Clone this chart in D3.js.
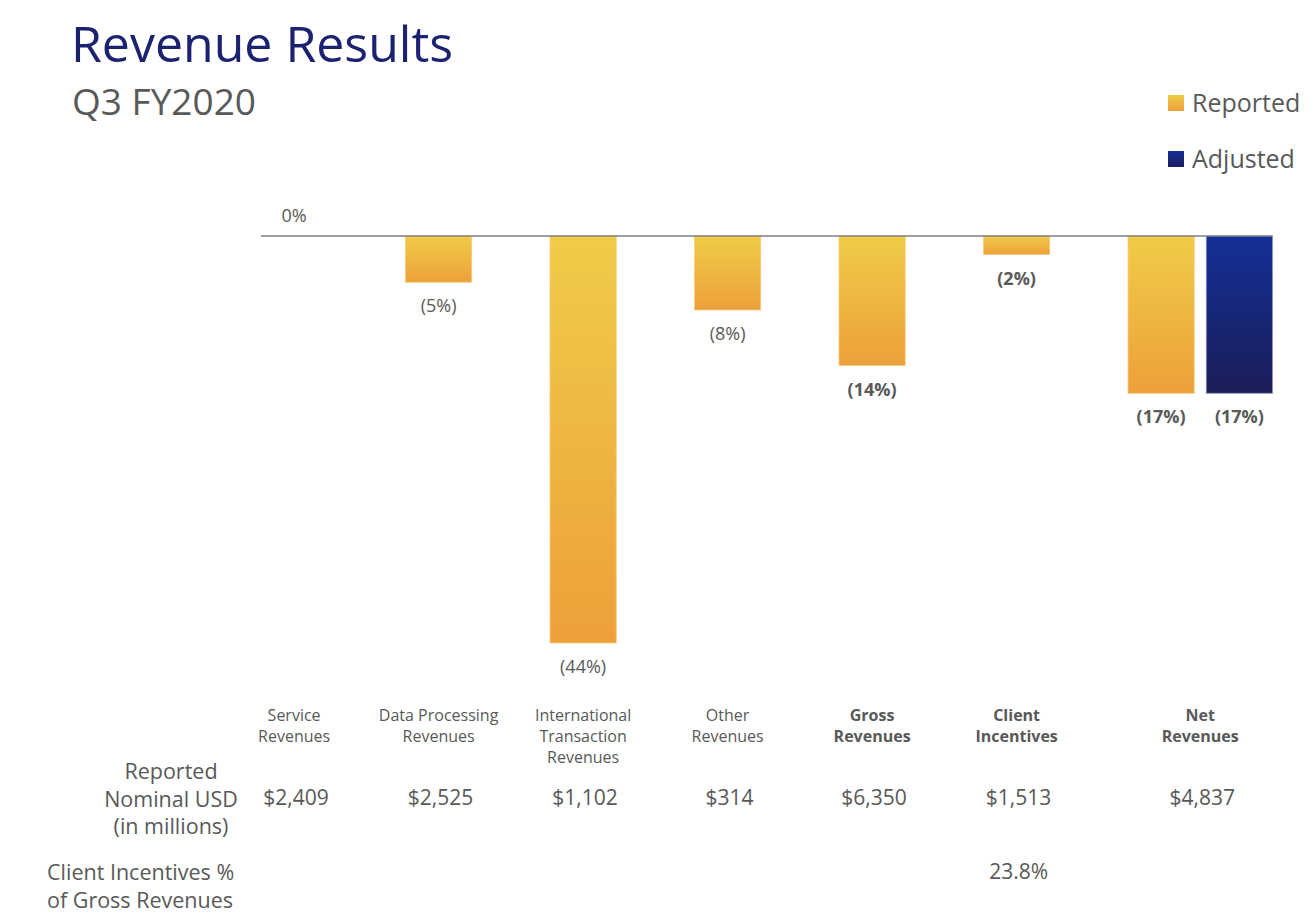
<!DOCTYPE html>
<html lang="en">
<head>
    <meta charset="UTF-8">
    <title>Revenue Results</title>
    <script src="https://d3js.org/d3.v7.min.js"></script>
</head>
<style>
    html,body {
        margin: 0;
        padding: 0;
        background: #fff;
    }
    text {
        font-family: "Open Sans", "Noto Sans", sans-serif;
    }
</style>
<body>
    <div id="svg"></div>
</body>
<script>
    // categories (line breaks as in the slide)
    const categories = ['Service\nRevenues', 'Data Processing\nRevenues', 'International\nTransaction\nRevenues',
        'Other\nRevenues', 'Gross\nRevenues', 'Client\nIncentives', 'Net\nRevenues'];
    // subtotal rows are set in bold
    const isTotal = [false, false, false, false, true, true, true];
    // growth, %
    const reported = [0, -5, -44, -8, -14, -2, -17];
    const adjusted = [null, null, null, null, null, null, -17];
    const series = ['Reported', 'Adjusted'];
    // table rows under the chart
    const nominalUSD = ['$2,409', '$2,525', '$1,102', '$314', '$6,350', '$1,513', '$4,837'];
    const incentivesPct = [null, null, null, null, null, '23.8%', null];
    const rowLabels = [['Reported', 'Nominal USD', '(in millions)'], ['Client Incentives %', 'of Gross Revenues']];

    const width = 1314;
    const height = 918;
    const textGray = '#595959';

    const svg = d3.select('#svg').append('svg')
        .attr('width', width)
        .attr('height', height);

    // gradients for the bars
    const defs = svg.append('defs');
    const grads = {
        Reported: ['#f0cc48', '#eda03a'],
        Adjusted: ['#142f97', '#1b1d57']
    };
    Object.keys(grads).forEach(k => {
        const g = defs.append('linearGradient').attr('id', 'g' + k)
            .attr('x1', 0).attr('y1', 0).attr('x2', 0).attr('y2', 1);
        g.append('stop').attr('offset', '0%').attr('stop-color', grads[k][0]);
        g.append('stop').attr('offset', '100%').attr('stop-color', grads[k][1]);
    });
    const strokes = {Reported: '#f5cd7e', Adjusted: '#8a90bd'};

    // titles
    svg.append('text').attr('x', 71).attr('y', 62)
        .attr('font-size', 50).attr('fill', '#1b2270')
        .text('Revenue Results');
    svg.append('text').attr('x', 72).attr('y', 115)
        .attr('font-size', 37).attr('fill', textGray)
        .text('Q3 FY2020');

    // legend
    const legend = svg.append('g').attr('transform', 'translate(1168, 95)');
    series.forEach((s, i) => {
        const lg = legend.append('g').attr('transform', `translate(0, ${i * 56})`);
        lg.append('rect').attr('width', 16).attr('height', 16).attr('fill', `url(#g${s})`);
        lg.append('text').attr('x', 24).attr('y', 17).attr('font-size', 25).attr('fill', textGray).text(s);
    });

    // scales
    const x = d3.scaleBand().domain(categories).range([261, 261 + 7 * 144.5]).paddingInner(0);
    const xs = d3.scaleBand().domain(series).range([0, x.bandwidth()]).paddingInner(0.154);
    const y = d3.scaleLinear().domain([0, -44]).range([236, 643]);

    const rows = categories.map((c, i) => ({
        cat: c, i, total: isTotal[i],
        bars: [{s: 'Reported', v: reported[i]}, {s: 'Adjusted', v: adjusted[i]}].filter(b => b.v !== null)
    }));
    // label centre: over the bars that exist in the category
    const labelX = r => {
        const xs0 = r.bars.map(b => x(r.cat) + xs(b.s));
        return (d3.min(xs0) + d3.max(xs0) + xs.bandwidth()) / 2;
    };

    const barData = rows.flatMap(r => r.bars.map(b => ({...b, cat: r.cat, total: r.total})));

    svg.append('g').selectAll('rect').data(barData.filter(d => d.v !== 0)).enter().append('rect')
        .attr('x', d => x(d.cat) + xs(d.s))
        .attr('y', y(0))
        .attr('width', xs.bandwidth())
        .attr('height', d => y(d.v) - y(0))
        .attr('fill', d => `url(#g${d.s})`)
        .attr('stroke', d => strokes[d.s])
        .attr('stroke-width', 0.8);

    // zero line
    svg.append('line')
        .attr('x1', x.range()[0]).attr('x2', x(categories[categories.length - 1]) + xs('Adjusted') + xs.bandwidth())
        .attr('y1', y(0)).attr('y2', y(0))
        .attr('stroke', '#7f7f7f').attr('stroke-width', 1.5);

    // bar labels
    const pct = v => v === 0 ? '0%' : `(${Math.abs(v)}%)`;
    svg.append('g').selectAll('text').data(barData).enter().append('text')
        .attr('x', d => x(d.cat) + xs(d.s) + xs.bandwidth() / 2)
        .attr('y', d => d.v === 0 ? y(0) - 14 : y(d.v) + 30)
        .attr('text-anchor', 'middle')
        .attr('font-size', 18)
        .attr('font-weight', d => d.total ? 'bold' : 'normal')
        .attr('fill', textGray)
        .text(d => pct(d.v));

    // category labels
    const catText = svg.append('g').selectAll('text').data(rows).enter().append('text')
        .attr('text-anchor', 'middle')
        .attr('font-size', 16)
        .attr('font-weight', d => d.total ? 'bold' : 'normal')
        .attr('fill', textGray);
    catText.selectAll('tspan').data(d => d.cat.split('\n').map(t => ({t, cx: labelX(d)}))).enter().append('tspan')
        .attr('x', d => d.cx)
        .attr('y', (d, j) => 721 + j * 21)
        .text(d => d.t);

    // table rows
    svg.append('g').selectAll('text').data(rows).enter().append('text')
        .attr('x', d => labelX(d) + 2)
        .attr('y', 805)
        .attr('text-anchor', 'middle')
        .attr('font-size', 21)
        .attr('fill', textGray)
        .text(d => nominalUSD[d.i]);
    svg.append('g').selectAll('text').data(rows.filter(d => incentivesPct[d.i] !== null)).enter().append('text')
        .attr('x', d => labelX(d) + 2)
        .attr('y', 879)
        .attr('text-anchor', 'middle')
        .attr('font-size', 21)
        .attr('fill', textGray)
        .text(d => incentivesPct[d.i]);

    // row labels
    const rl1 = svg.append('text').attr('text-anchor', 'middle').attr('font-size', 21.5).attr('fill', textGray);
    rowLabels[0].forEach((t, j) => rl1.append('tspan').attr('x', 171).attr('y', 779 + j * 27.5).text(t));
    const rl2 = svg.append('text').attr('font-size', 21.5).attr('fill', textGray);
    rowLabels[1].forEach((t, j) => rl2.append('tspan').attr('x', 47).attr('y', 880 + j * 28).text(t));
</script>
</html>
